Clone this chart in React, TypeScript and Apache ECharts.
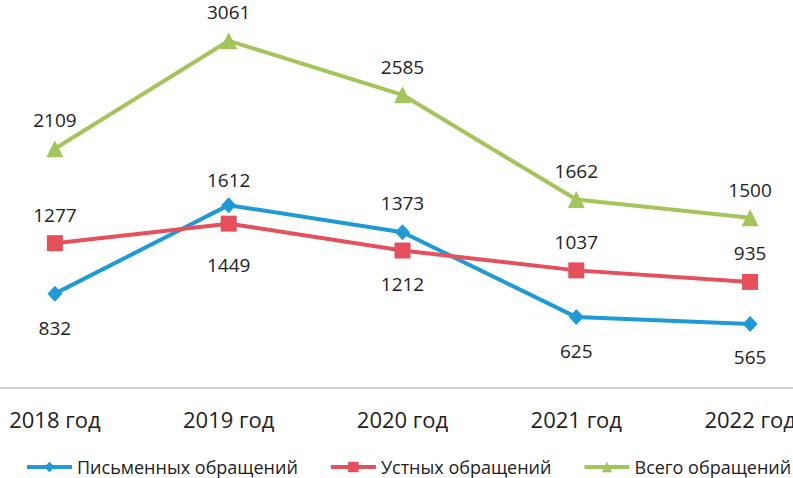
import React, { useEffect, useRef } from "react";
import * as echarts from "echarts";

const categories = ["2018 год", "2019 год", "2020 год", "2021 год", "2022 год"];
const seriesNames = ["Письменных обращений", "Устных обращений", "Всего обращений"];
const written = [832, 1612, 1373, 625, 565];
const oral = [1277, 1449, 1212, 1037, 935];
const total = [2109, 3061, 2585, 1662, 1500];

// label placement (style only)
const writtenLabelPos = ["bottom", "top", "top", "bottom", "bottom"];
const writtenLabelDist = [17, 8, 12, 16, 16];
const oralLabelPos = ["top", "bottom", "bottom", "top", "top"];
const oralLabelDist = [11, 24, 16, 11, 11];
const totalLabelPos = ["top", "top", "top", "top", "top"];
const totalLabelDist = [11, 11, 10, 10, 10];

const FONT = "'Open Sans', 'DejaVu Sans', sans-serif";
const TEXT = "#222222";

// the plot is wider than the visible picture (it is cropped on both sides)
const OFF_LEFT = 32;
const OFF_TOP = 9;
const INNER_W = 793 + 32 + 44;
const INNER_H = 478 + 9;

function withLabels(values: number[], pos: string[], dist: number[]) {
  return values.map((v, i) => ({
    value: v,
    label: { position: pos[i], distance: dist[i] },
  }));
}

export default function App() {
  const ref = useRef<HTMLDivElement>(null);
  useEffect(() => {
    document.body.style.margin = "0";
    const chart = echarts.init(ref.current!, null, { renderer: "svg" });
    const labelBase = {
      show: true,
      color: TEXT,
      fontSize: 19,
      fontFamily: FONT,
    };
    chart.setOption({
      animation: false,
      backgroundColor: "#ffffff",
      textStyle: { fontFamily: FONT },
      grid: { left: 0, right: 0, top: 0, bottom: 90, containLabel: false },
      legend: {
        top: 453 + OFF_TOP,
        left: 20 + OFF_LEFT,
        itemWidth: 45,
        itemHeight: 13,
        itemGap: 31,
        lineStyle: { width: 4 },
        textStyle: { color: TEXT, fontSize: 18, fontFamily: FONT },
        data: seriesNames,
      },
      xAxis: {
        type: "category",
        data: categories,
        boundaryGap: true,
        axisLine: { lineStyle: { color: "#bfbfbf", width: 1.5 } },
        axisTick: { show: false },
        axisLabel: { color: TEXT, fontSize: 22, fontFamily: FONT, margin: 20 },
        splitLine: { show: false },
      },
      yAxis: {
        type: "value",
        min: 0,
        max: 3500,
        show: false,
        splitLine: { show: false },
      },
      series: [
        {
          name: seriesNames[0],
          type: "line",
          data: withLabels(written, writtenLabelPos, writtenLabelDist),
          symbol: "diamond",
          symbolSize: [15, 16],
          color: "#1e9ad6",
          lineStyle: { width: 4, color: "#1e9ad6" },
          itemStyle: { color: "#1e9ad6" },
          label: labelBase,
        },
        {
          name: seriesNames[1],
          type: "line",
          data: withLabels(oral, oralLabelPos, oralLabelDist),
          symbol: "rect",
          symbolSize: 16,
          color: "#e5505c",
          lineStyle: { width: 4, color: "#e5505c" },
          itemStyle: { color: "#e5505c" },
          label: labelBase,
        },
        {
          name: seriesNames[2],
          type: "line",
          data: withLabels(total, totalLabelPos, totalLabelDist),
          symbol: "triangle",
          symbolSize: 17,
          color: "#a3c55a",
          lineStyle: { width: 4, color: "#a3c55a" },
          itemStyle: { color: "#a3c55a" },
          label: labelBase,
        },
      ],
    });
    return () => chart.dispose();
  }, []);
  return (
    <div style={{ position: "relative", width: 793, height: 478, overflow: "hidden", background: "#fff" }}>
      <div
        ref={ref}
        style={{ position: "absolute", left: -OFF_LEFT, top: -OFF_TOP, width: INNER_W, height: INNER_H }}
      />
    </div>
  );
}
